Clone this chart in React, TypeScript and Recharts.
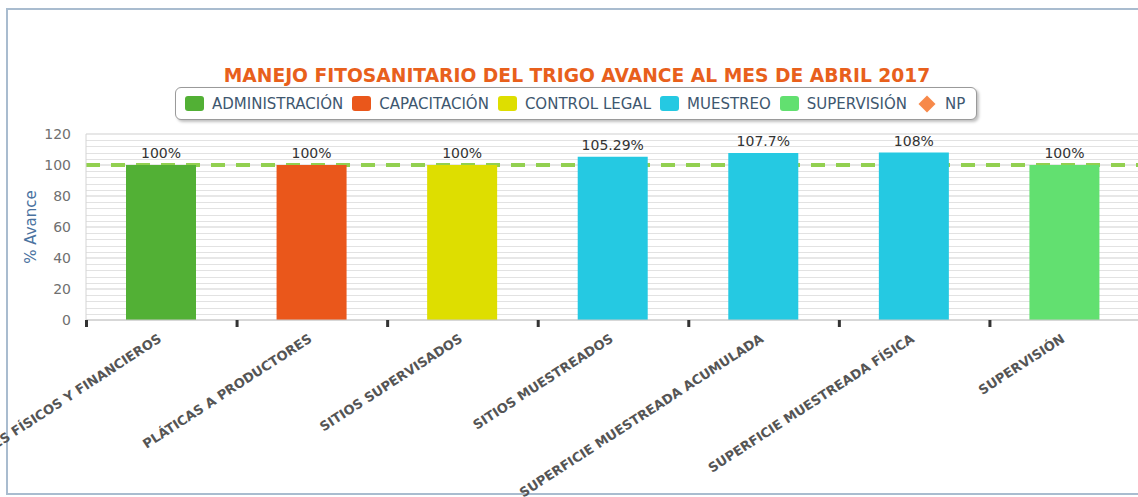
import React from 'react';
import { BarChart, Bar, XAxis, YAxis, CartesianGrid, LabelList, Cell, Label } from 'recharts';

const categories = [
  'INFORMES FÍSICOS Y FINANCIEROS',
  'PLÁTICAS A PRODUCTORES',
  'SITIOS SUPERVISADOS',
  'SITIOS MUESTREADOS',
  'SUPERFICIE MUESTREADA ACUMULADA',
  'SUPERFICIE MUESTREADA FÍSICA',
  'SUPERVISIÓN',
];
const avance = [100, 100, 100, 105.29, 107.7, 108, 100];
const barColors = ['#52b035', '#ea571b', '#dede00', '#25c9e2', '#25c9e2', '#25c9e2', '#62e070'];
const legendNames = ['ADMINISTRACIÓN', 'CAPACITACIÓN', 'CONTROL LEGAL', 'MUESTREO', 'SUPERVISIÓN', 'NP'];
const legendColors = ['#52b035', '#ea571b', '#dede00', '#25c9e2', '#62e070', '#f7894a'];
const yTicks = [0, 20, 40, 60, 80, 100, 120];
const minorTicks = [4, 8, 12, 16, 24, 28, 32, 36, 44, 48, 52, 56, 64, 68, 72, 76, 84, 88, 92, 96, 104, 108, 112, 116];
const metaValue = [100];
const title = 'MANEJO FITOSANITARIO DEL TRIGO AVANCE AL MES DE ABRIL 2017';

const data = categories.map((c, i) => ({ name: c, value: avance[i] }));

const scaleOf = (args: any) => {
  const ax = args && args.yAxis;
  const s = ax && ax.scale;
  return s;
};

const minorGen = (args: any) => {
  const s = scaleOf(args);
  if (!s) return [];
  const fn = typeof s === 'function' ? s : s.map ? (v: number) => s.map(v) : null;
  if (!fn) return [];
  return minorTicks.map((v) => Math.round(fn(v)) + 0.5);
};

const XTick = (props: any) => {
  const { x, y, payload, width } = props;
  const half = payload && payload.offset ? payload.offset : width / categories.length / 2;
  const tx = x + 1;
  const ty = y + 13;
  return (
    <g>
      <rect x={x - half - 1} y={y - 8} width={3} height={7} fill="#333" />
      <text
        x={tx}
        y={ty}
        textAnchor="end"
        transform={`rotate(-33, ${tx}, ${ty})`}
        fontFamily="DejaVu Sans"
        fontWeight="bold"
        fontSize={13}
        fill="#555"
      >
        {payload.value}
      </text>
    </g>
  );
};

const LegendBox = () => (
  <div
    style={{
      position: 'absolute',
      left: 175,
      top: 87,
      height: 31,
      border: '1.5px solid #9a9a9a',
      borderRadius: 6,
      boxShadow: '2px 2px 3px rgba(0,0,0,0.25)',
      background: '#fff',
      display: 'flex',
      alignItems: 'center',
      padding: '0 11px 0 9px',
      fontFamily: 'DejaVu Sans',
      fontSize: 15,
      color: '#3e576f',
      whiteSpace: 'nowrap',
    }}
  >
    {legendNames.map((n, i) => (
      <div key={n} style={{ display: 'flex', alignItems: 'center', marginRight: i < legendNames.length - 1 ? 9 : 0 }}>
        {i < legendNames.length - 1 ? (
          <div style={{ width: 19, height: 15, background: legendColors[i], borderRadius: 3, marginRight: 8 }} />
        ) : (
          <div style={{ width: 12, height: 12, background: legendColors[i], transform: 'rotate(45deg)', marginLeft: 5, marginRight: 12 }} />
        )}
        <span>{n}</span>
      </div>
    ))}
  </div>
);

export default function App() {
  return (
    <div style={{ position: 'absolute', left: 0, top: 0, width: 1138, height: 497, overflow: 'hidden', background: '#fff' }}>
      <div style={{ position: 'absolute', left: 6, top: 8, width: 1200, height: 483, border: '2px solid #a9bccf' }} />
      <div
        style={{
          position: 'absolute',
          left: 0,
          width: 1154,
          top: 65,
          textAlign: 'center',
          fontFamily: 'DejaVu Sans',
          fontWeight: 'bold',
          fontSize: 18.7,
          color: '#e8601c',
        }}
      >
        {title}
      </div>
      <div style={{ position: 'absolute', left: 0, top: 0 }}>
        <BarChart width={1150} height={497} data={data} margin={{ top: 134, right: 10, bottom: 0, left: 26 }}>
          <CartesianGrid vertical={false} horizontalCoordinatesGenerator={minorGen} stroke="#e2e2e2" fill="none" />
          <CartesianGrid vertical={false} stroke="#cfcfcf" fill="none" />
          <CartesianGrid vertical={false} horizontalValues={metaValue} stroke="#92d050" strokeWidth={4} strokeDasharray="14 11" fill="none" />
          <XAxis
            dataKey="name"
            interval={0}
            height={177}
            tickLine={false}
            axisLine={{ stroke: '#c8c8c8' }}
            tick={<XTick />}
          />
          <YAxis
            domain={[0, 120]}
            ticks={yTicks}
            width={60}
            tickLine={false}
            axisLine={{ stroke: '#d4d4d4' }}
            tickMargin={9}
            tick={{ fill: '#707070', fontSize: 14, fontFamily: 'DejaVu Sans' }}
          >
            <Label
              value="% Avance"
              angle={-90}
              position="insideLeft"
              offset={5}
              style={{ fill: '#4a72a0', fontSize: 15, fontFamily: 'DejaVu Sans', textAnchor: 'middle' }}
            />
          </YAxis>
          <Bar dataKey="value" barSize={70} isAnimationActive={false}>
            {data.map((d, i) => (
              <Cell key={d.name} fill={barColors[i]} />
            ))}
            <LabelList
              dataKey="value"
              position="top"
              offset={7}
              formatter={(v: any) => `${v}%`}
              style={{ fill: '#333', fontSize: 14, fontFamily: 'DejaVu Sans' }}
            />
          </Bar>
        </BarChart>
      </div>
      <LegendBox />
    </div>
  );
}
